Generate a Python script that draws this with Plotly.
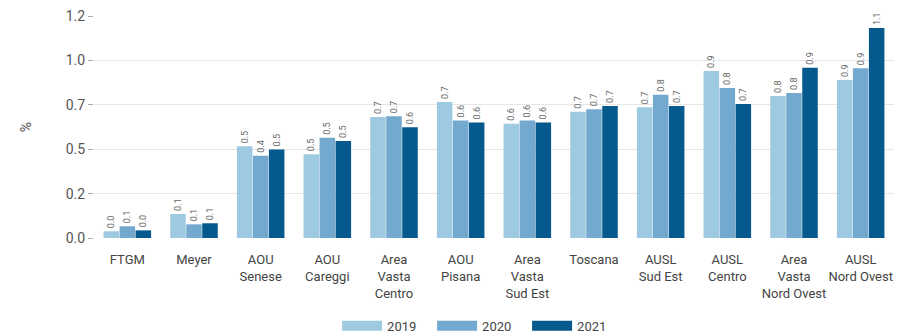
import plotly.graph_objects as go

categories = ["FTGM", "Meyer", "AOU<br>Senese", "AOU<br>Careggi", "Area<br>Vasta<br>Centro",
              "AOU<br>Pisana", "Area<br>Vasta<br>Sud Est", "Toscana", "AUSL<br>Sud Est",
              "AUSL<br>Centro", "Area<br>Vasta<br>Nord Ovest", "AUSL<br>Nord Ovest"]

v2019 = [0.038, 0.135, 0.516, 0.472, 0.681, 0.766, 0.643, 0.711, 0.736, 0.941, 0.800, 0.890]
v2020 = [0.066, 0.077, 0.463, 0.564, 0.685, 0.662, 0.662, 0.725, 0.807, 0.845, 0.817, 0.956]
v2021 = [0.043, 0.083, 0.499, 0.546, 0.623, 0.651, 0.651, 0.743, 0.743, 0.755, 0.959, 1.182]

l2019 = ["0.0", "0.1", "0.5", "0.5", "0.7", "0.7", "0.6", "0.7", "0.7", "0.9", "0.8", "0.9"]
l2020 = ["0.1", "0.1", "0.4", "0.5", "0.7", "0.6", "0.6", "0.7", "0.8", "0.8", "0.8", "0.9"]
l2021 = ["0.0", "0.1", "0.5", "0.5", "0.6", "0.6", "0.6", "0.7", "0.7", "0.7", "0.9", "1.1"]

years = ["2019", "2020", "2021"]
colors = ["#9ecae1", "#73a8cf", "#05598c"]

ytick_vals = [0, 0.25, 0.5, 0.75, 1.0, 1.25]
ytick_text = ["0.0", "0.2", "0.5", "0.7", "1.0", "1.2"]

FONT = "Roboto, sans-serif"

fig = go.Figure()
for yr, vals, labs, col in zip(years, [v2019, v2020, v2021], [l2019, l2020, l2021], colors):
    fig.add_trace(go.Bar(
        x=categories, y=vals, name=yr, marker=dict(color=col, line=dict(width=0)),
        text=labs, textposition="outside", textangle=-90,
        textfont=dict(size=9, color="#666666", family=FONT),
        cliponaxis=False, showlegend=False,
    ))
    fig.add_trace(go.Scatter(
        x=[None], y=[None], mode="lines", name=yr,
        line=dict(color=col, width=10), showlegend=True,
    ))

fig.update_layout(
    width=897, height=334,
    margin=dict(l=94, r=3, t=16, b=96, autoexpand=False),
    plot_bgcolor="white", paper_bgcolor="white",
    barmode="group", bargap=0.28, bargroupgap=0.03,
    font=dict(family=FONT, color="#444444", size=13),
    uniformtext=dict(minsize=8, mode="show"),
    legend=dict(orientation="h", x=0.482, xanchor="center", y=-0.396, yanchor="middle",
                font=dict(size=13, color="#444444"), itemwidth=40, entrywidth=40,
                traceorder="normal"),
    xaxis=dict(showgrid=False, ticks="", tickfont=dict(size=13, color="#444444"),
               showline=False, zeroline=False, ticklabelstandoff=12, automargin=False),
    yaxis=dict(range=[0, 1.25], tickvals=ytick_vals, ticktext=ytick_text,
               showgrid=True, gridcolor="#e6e6e6", gridwidth=1,
               ticks="outside", ticklen=5, tickcolor="#aaaaaa",
               zeroline=False, showline=False, automargin=False,
               tickfont=dict(size=14, color="#555555"),
               title=dict(text="%", standoff=30, font=dict(size=14, color="#555555"))),
)

fig.write_html("out.html", config={"displayModeBar": False},
               post_script="document.body.style.margin='0';")
